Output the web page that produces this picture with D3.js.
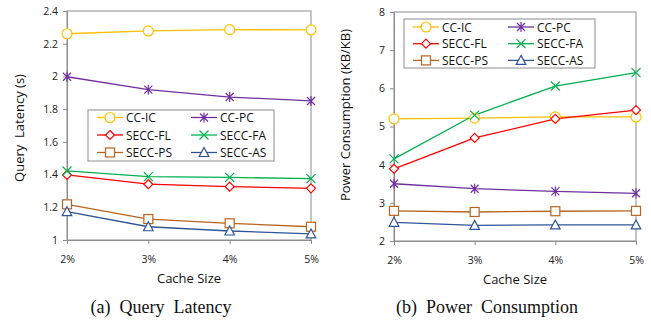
<!DOCTYPE html>
<html><head><meta charset="utf-8">
<script src="https://cdn.jsdelivr.net/npm/d3@7"></script>
<style>body{margin:0;background:#fff}svg{display:block}text{white-space:pre}</style>
</head><body>
<svg id="c" width="651" height="322"></svg>
<script>
const categories = ["2%", "3%", "4%", "5%"];
const seriesNames = ["CC-IC", "CC-PC", "SECC-FL", "SECC-FA", "SECC-PS", "SECC-AS"];
const seriesColors = ["#FFC000", "#7030A0", "#FF0000", "#00B050", "#B8631E", "#2F5597"];
const seriesMarkers = ["circle", "star", "diamond", "x", "square", "triangle"];

const latencyCCIC = [2.261, 2.278, 2.286, 2.284];
const latencyCCPC = [1.998, 1.919, 1.874, 1.850];
const latencySECCFL = [1.398, 1.341, 1.326, 1.316];
const latencySECCFA = [1.422, 1.387, 1.383, 1.375];
const latencySECCPS = [1.218, 1.128, 1.102, 1.081];
const latencySECCAS = [1.173, 1.081, 1.055, 1.037];

const powerCCIC = [5.20, 5.22, 5.25, 5.25];
const powerCCPC = [3.50, 3.37, 3.30, 3.25];
const powerSECCFL = [3.89, 4.70, 5.20, 5.43];
const powerSECCFA = [4.15, 5.30, 6.06, 6.41];
const powerSECCPS = [2.79, 2.76, 2.78, 2.79];
const powerSECCAS = [2.49, 2.41, 2.42, 2.42];

const latencyTicks = [1, 1.2, 1.4, 1.6, 1.8, 2, 2.2, 2.4];
const powerTicks = [2, 3, 4, 5, 6, 7, 8];

const svg = d3.select("#c");
const tickFont = "'Open Sans', 'DejaVu Sans', sans-serif";

function marker(g, type, x, y, color) {
  const s = g.append("g").attr("transform", `translate(${x},${y})`);
  const st = {stroke: color, "stroke-width": 1.2, fill: "none"};
  const apply = el => { for (const k in st) el.attr(k, st[k]); return el; };
  if (type === "circle") apply(s.append("circle").attr("r", 5)).attr("fill", "#fff");
  else if (type === "square") apply(s.append("rect").attr("x", -4.5).attr("y", -4.5).attr("width", 9).attr("height", 9)).attr("fill", "#fff");
  else if (type === "diamond") apply(s.append("path").attr("d", "M0,-4.5L4.5,0L0,4.5L-4.5,0Z")).attr("fill", "#fff");
  else if (type === "triangle") apply(s.append("path").attr("d", "M0,-5L4.8,4L-4.8,4Z")).attr("fill", "#fff");
  else if (type === "x") apply(s.append("path").attr("d", "M-4.5,-4.5L4.5,4.5M-4.5,4.5L4.5,-4.5"));
  else if (type === "star") apply(s.append("path").attr("d", "M-4,-4L4,4M-4,4L4,-4M0,-5L0,5"));
}

function chart(opts) {
  const {x0, x1, y0, y1, domain, ticks, data, ylabel, ylabelX, ylabelY, legend, caption, captionX} = opts;
  const g = svg.append("g");
  const x = d3.scalePoint().domain(categories).range([x0, x1]);
  const y = d3.scaleLinear().domain(domain).range([y1, y0]);

  g.append("rect").attr("x", x0).attr("y", y0).attr("width", x1 - x0).attr("height", y1 - y0)
    .attr("fill", "none").attr("stroke", "#8c8c8c").attr("stroke-width", 1);

  const ya = g.append("g").attr("transform", `translate(${x0},0)`)
    .call(d3.axisLeft(y).tickValues(ticks).tickSize(4).tickPadding(5).tickFormat(d => String(d)));
  ya.select(".domain").attr("stroke", "#8c8c8c");
  ya.selectAll(".tick line").attr("stroke", "#8c8c8c");
  ya.selectAll("text").attr("font-family", tickFont).attr("font-size", 10.5).attr("fill", "#222");

  const xa = g.append("g").attr("transform", `translate(0,${y1})`)
    .call(d3.axisBottom(x).tickSize(4).tickPadding(12));
  xa.select(".domain").attr("stroke", "#8c8c8c");
  xa.selectAll(".tick line").attr("stroke", "#8c8c8c");
  xa.selectAll("text").attr("font-family", tickFont).attr("font-size", 10.5).attr("fill", "#222");

  g.append("text").attr("x", (x0 + x1) / 2).attr("y", y1 + 43).attr("text-anchor", "middle")
    .attr("font-family", tickFont).attr("font-size", 13).attr("fill", "#111").text("Cache Size");

  g.append("text").attr("transform", `translate(${ylabelX},${ylabelY}) rotate(-90)`)
    .attr("text-anchor", "middle").attr("font-family", tickFont).attr("font-size", 13)
    .attr("fill", "#111").text(ylabel);

  const line = d3.line().x((d, i) => x(categories[i])).y(d => y(d));
  data.forEach((vals, si) => {
    g.append("path").datum(vals).attr("d", line).attr("fill", "none")
      .attr("stroke", seriesColors[si]).attr("stroke-width", 1.3);
  });
  data.forEach((vals, si) => {
    vals.forEach((v, i) => marker(g, seriesMarkers[si], x(categories[i]), y(v), seriesColors[si]));
  });

  const L = legend;
  g.append("rect").attr("x", L.x).attr("y", L.y).attr("width", L.w).attr("height", L.h)
    .attr("fill", "#fff").attr("stroke", "#8c8c8c").attr("stroke-width", 1);
  seriesNames.forEach((name, si) => {
    const col = si % 2, row = Math.floor(si / 2);
    const lx = L.x + L.lineOff + col * L.colW;
    const ly = L.y + L.rowY0 + row * L.rowH;
    g.append("line").attr("x1", lx).attr("x2", lx + 26).attr("y1", ly).attr("y2", ly)
      .attr("stroke", seriesColors[si]).attr("stroke-width", 1.3);
    marker(g, seriesMarkers[si], lx + 13, ly, seriesColors[si]);
    g.append("text").attr("x", lx + 29).attr("y", ly + 4.5).attr("font-family", tickFont)
      .attr("font-size", 12).attr("fill", "#111").text(name);
  });

  svg.append("text").attr("x", captionX).attr("y", 313).attr("text-anchor", "middle")
    .attr("font-family", "'Liberation Serif', 'DejaVu Serif', serif").attr("font-size", 18)
    .attr("fill", "#111").text(caption);
}

chart({x0: 67, x1: 311, y0: 11, y1: 240, domain: [1, 2.4], ticks: latencyTicks,
  data: [latencyCCIC, latencyCCPC, latencySECCFL, latencySECCFA, latencySECCPS, latencySECCAS],
  ylabel: "Query  Latency (s)", ylabelX: 24, ylabelY: 128,
  legend: {x: 88, y: 110, w: 186, h: 51, lineOff: 9, colW: 94, rowY0: 7.5, rowH: 17.5},
  caption: "(a)  Query  Latency", captionX: 161});

chart({x0: 394, x1: 636, y0: 12, y1: 241, domain: [2, 8], ticks: powerTicks,
  data: [powerCCIC, powerCCPC, powerSECCFL, powerSECCFA, powerSECCPS, powerSECCAS],
  ylabel: "Power Consumption (KB/KB)", ylabelX: 350, ylabelY: 115,
  legend: {x: 404, y: 19, w: 191, h: 49, lineOff: 9, colW: 95, rowY0: 8, rowH: 16.7},
  caption: "(b)  Power  Consumption", captionX: 487});
</script>
</body></html>
